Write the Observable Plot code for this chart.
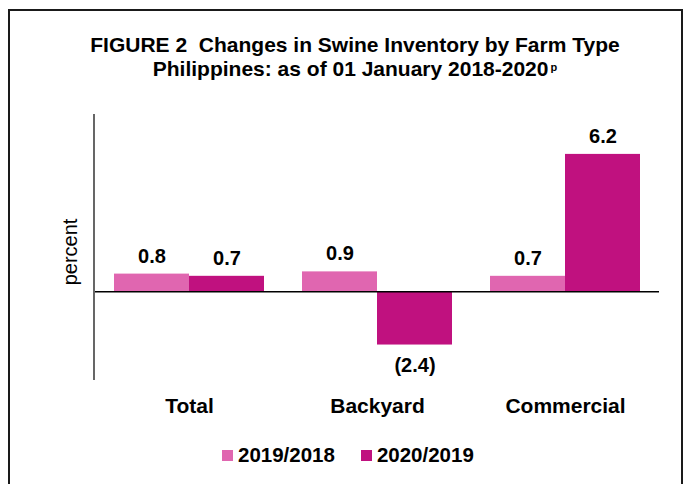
<!DOCTYPE html>
<html>
<head>
<meta charset="utf-8">
<script src="https://cdn.jsdelivr.net/npm/d3@7"></script>
<script src="https://cdn.jsdelivr.net/npm/@observablehq/plot@0.6"></script>
<style>
  html, body { margin: 0; padding: 0; background: #fff; }
  #wrap { position: relative; width: 688px; height: 484px; overflow: hidden; font-family: "Liberation Sans", Arial, sans-serif; color: #000; }
  #frame { position: absolute; left: 8px; top: 9px; width: 675px; height: 520px; border: 2px solid #1a1a1a; border-bottom: none; box-sizing: border-box; }
  .tline { position: absolute; left: 0; width: 710px; text-align: center; font-weight: bold; font-size: 21px; line-height: 24px; white-space: pre; }
  #t1 { top: 33px; }
  #t2 { top: 57px; }
  #t2 .sup { display: inline-block; font-size: 11px; line-height: 11px; vertical-align: top; margin-top: 5px; margin-left: 2px; }
  #ylabel { position: absolute; left: 70px; top: 252px; transform: translate(-50%, -50%) rotate(-90deg); font-size: 20px; white-space: nowrap; }
  #chart { position: absolute; left: 0; top: 100px; }
  #legend { position: absolute; left: 222px; top: 443px; display: flex; align-items: center; font-weight: bold; font-size: 20.5px; line-height: 24px; }
  .item { display: flex; align-items: center; }
  .sw { width: 11px; height: 11px; margin-right: 5px; margin-top: 1px; }
  #chart svg g[aria-label="fx-axis"] text, #chart svg g[aria-label="fx-axis tick label"] text { font-size: 21px; }
</style>
</head>
<body>
<div id="wrap">
  <div id="frame"></div>
  <div id="t1" class="tline">FIGURE 2  Changes in Swine Inventory by Farm Type</div>
  <div id="t2" class="tline">Philippines: as of 01 January 2018-2020<span class="sup">p</span></div>
  <div id="ylabel">percent</div>
  <div id="chart"></div>
  <div id="legend"></div>
</div>
<script>
const farmTypes = ["Total", "Backyard", "Commercial"];
const seriesNames = ["2019/2018", "2020/2019"];
const values2019_2018 = [0.8, 0.9, 0.7];
const values2020_2019 = [0.7, -2.4, 6.2];
const seriesColors = ["#E066B0", "#C0117F"];

const seriesValues = [values2019_2018, values2020_2019];
const rows = [];
farmTypes.forEach((farm, i) => {
  seriesNames.forEach((s, j) => rows.push({farm, series: s, value: seriesValues[j][i]}));
});
const fmt = v => v < 0 ? `(${Math.abs(v).toFixed(1)})` : v.toFixed(1);

const plot = Plot.plot({
  width: 688,
  height: 340,
  marginTop: 14,
  marginBottom: 60,
  marginLeft: 94,
  marginRight: 29,
  style: {fontFamily: "'Liberation Sans', Arial, sans-serif", fontSize: "20px", fontWeight: "bold", color: "#000", background: "transparent"},
  fx: {domain: farmTypes, padding: 0, axis: "bottom", tickSize: 0, tickPadding: 18, label: null},
  x: {domain: seriesNames, paddingInner: 0, paddingOuter: 0.24, axis: null},
  y: {domain: [-4, 8], axis: null},
  color: {domain: seriesNames, range: seriesColors},
  marks: [
    Plot.barY(rows, {fx: "farm", x: "series", y: "value", fill: "series"}),
    Plot.ruleY([0], {stroke: "#000", strokeWidth: 1.5}),
    Plot.text(rows.filter(d => d.value >= 0), {fx: "farm", x: "series", y: "value", text: d => fmt(d.value), dy: -18, fill: "#000"}),
    Plot.text(rows.filter(d => d.value < 0), {fx: "farm", x: "series", y: "value", text: d => fmt(d.value), dy: 21, fill: "#000"})
  ]
});
document.getElementById("chart").appendChild(plot);

// y axis line from the plot's own scales
const yS = plot.scale("y");
const fxS = plot.scale("fx");
d3.select(plot).append("line")
  .attr("x1", fxS.range[0]).attr("x2", fxS.range[0])
  .attr("y1", yS.range[0]).attr("y2", yS.range[1])
  .attr("stroke", "#000").attr("stroke-width", 1.2);

const legend = d3.select("#legend");
seriesNames.forEach((s, i) => {
  const it = legend.append("div").attr("class", "item").style("margin-right", i === 0 ? "26px" : "0");
  it.append("div").attr("class", "sw").style("background", seriesColors[i]);
  it.append("span").text(s);
});
</script>
</body>
</html>
